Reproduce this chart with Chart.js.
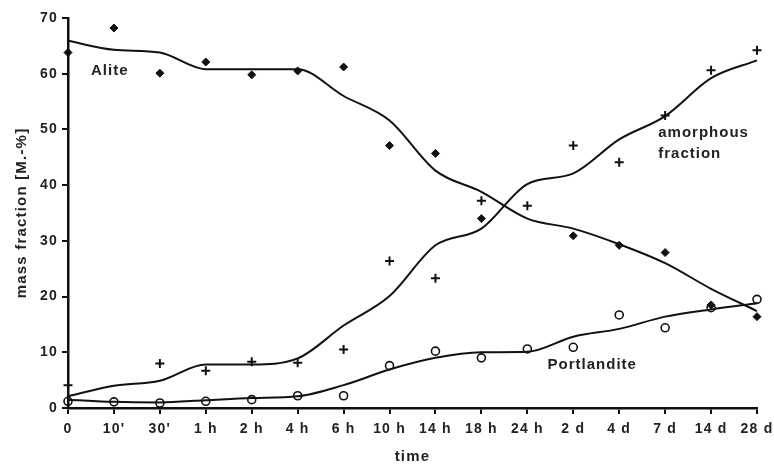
<!DOCTYPE html>
<html>
<head>
<meta charset="utf-8">
<script src="https://cdn.jsdelivr.net/npm/chart.js@4/dist/chart.umd.min.js"></script>
<style>
  html, body { margin: 0; padding: 0; background: #fff; }
  #wrap { width: 774px; height: 466px; }
</style>
</head>
<body>
<div id="wrap"><canvas id="c" width="774" height="466"></canvas></div>
<script>
// Hydration times
const times = ["0", "10'", "30'", "1 h", "2 h", "4 h", "6 h", "10 h", "14 h", "18 h", "24 h", "2 d", "4 d", "7 d", "14 d", "28 d"];

// Measured phase contents [M.-%]
const aliteMeasured       = [63.8, 68.2, 60.1, 62.1, 59.8, 60.5, 61.2, 47.1, 45.7, 34.0, null, 30.9, 29.2, 27.9, 18.5, 16.4];
const amorphousMeasured   = [4.1, null, 8.0, 6.7, 8.3, 8.1, 10.5, 26.4, 23.3, 37.2, 36.3, 47.1, 44.1, 52.5, 60.6, 64.2];
const portlanditeMeasured = [1.2, 1.1, 0.9, 1.2, 1.5, 2.2, 2.2, 7.6, 10.2, 9.0, 10.6, 10.9, 16.7, 14.4, 18.0, 19.5];

// Smoothed trends
const aliteTrend       = [65.9, 64.3, 63.8, 60.8, 60.8, 60.8, 56.0, 51.6, 42.6, 38.8, 34.0, 32.2, 29.4, 26.0, 21.4, 17.4];
const amorphousTrend   = [2.1, 4.0, 4.9, 7.8, 7.8, 8.9, 14.8, 20.1, 29.2, 32.2, 40.2, 42.1, 48.2, 52.4, 59.2, 62.4];
const portlanditeTrend = [1.5, 1.1, 1.0, 1.4, 1.8, 2.1, 4.1, 6.9, 9.0, 10.0, 10.1, 12.8, 14.2, 16.4, 17.7, 18.8];

// y-axis ticks
const yTicks = [0, 10, 20, 30, 40, 50, 60, 70];

// Curve labels (category index, value at the text's vertical centre, text)
const curveLabels = [
  { at: 0.5,   v: 60.5, text: "Alite" },
  { at: 12.85, v: 49.4, text: "amorphous" },
  { at: 12.85, v: 45.7, text: "fraction" },
  { at: 10.44, v: 7.7,  text: "Portlandite" }
];

const FONT = "'Liberation Sans', Arial, sans-serif";

// Slightly widened lettering for all chart text
const spacingPlugin = {
  id: 'letterSpacing',
  beforeInit(chart) { chart.ctx.letterSpacing = '1.2px'; },
  beforeUpdate(chart) { chart.ctx.letterSpacing = '1.2px'; },
  beforeDraw(chart) { chart.ctx.letterSpacing = '1.2px'; }
};

const labelPlugin = {
  id: 'curveLabels',
  afterDatasetsDraw(chart) {
    const { ctx, scales } = chart;
    ctx.save();
    ctx.letterSpacing = '1px';
    ctx.fillStyle = '#222';
    ctx.font = 'bold 15px ' + FONT;
    ctx.textAlign = 'left';
    ctx.textBaseline = 'middle';
    curveLabels.forEach(l => {
      const x = scales.x.getPixelForValue(l.at);
      const y = scales.y.getPixelForValue(l.v);
      ctx.fillText(l.text, x, y);
    });
    ctx.restore();
  }
};

const trendStyle = {
  type: 'line',
  borderColor: '#111',
  borderWidth: 2,
  pointRadius: 0,
  tension: 0.4,
  cubicInterpolationMode: 'monotone',
  fill: false
};
const markStyle = {
  type: 'line',
  showLine: false,
  borderColor: '#111',
  backgroundColor: '#111'
};

new Chart(document.getElementById('c'), {
  data: {
    labels: times,
    datasets: [
      Object.assign({ label: 'Alite trend', data: aliteTrend }, trendStyle),
      Object.assign({ label: 'amorphous trend', data: amorphousTrend }, trendStyle),
      Object.assign({ label: 'Portlandite trend', data: portlanditeTrend }, trendStyle),
      Object.assign({ label: 'Alite', data: aliteMeasured, pointStyle: 'rectRot', pointRadius: 4, borderWidth: 1 }, markStyle),
      Object.assign({ label: 'amorphous fraction', data: amorphousMeasured, pointStyle: 'cross', pointRadius: 4.5, borderWidth: 2 }, markStyle),
      Object.assign({ label: 'Portlandite', data: portlanditeMeasured, pointStyle: 'circle', pointRadius: 4, borderWidth: 1.6 }, markStyle, { backgroundColor: 'rgba(255,255,255,0)' })
    ]
  },
  options: {
    responsive: false,
    animation: false,
    devicePixelRatio: 1,
    layout: { padding: { left: 13, right: 17, top: 18, bottom: 0 } },
    plugins: { legend: { display: false }, tooltip: { enabled: false } },
    scales: {
      x: {
        type: 'category',
        offset: false,
        border: { display: true, color: '#111', width: 2.5 },
        grid: { display: true, drawOnChartArea: false, drawTicks: true, tickLength: 6, color: '#111', lineWidth: 2 },
        ticks: { color: '#222', font: { family: FONT, size: 14, weight: 'bold' }, padding: 7, maxRotation: 0, autoSkip: false },
        title: { display: true, text: 'time', color: '#222', font: { family: FONT, size: 15, weight: 'bold' }, padding: { top: 8, bottom: 0 } },
        afterFit(s) { s.height = 58; s.paddingLeft = 0; s.paddingRight = 0; }
      },
      y: {
        min: 0, max: 70,
        afterBuildTicks(s) { s.ticks = yTicks.map(v => ({ value: v })); },
        border: { display: true, color: '#111', width: 2.5 },
        grid: { display: true, drawOnChartArea: false, drawTicks: true, tickLength: 6, color: '#111', lineWidth: 2 },
        ticks: { color: '#222', font: { family: FONT, size: 14, weight: 'bold' }, padding: 4 },
        title: { display: true, text: 'mass fraction [M.-%]', color: '#222', font: { family: FONT, size: 15, weight: 'bold' }, padding: { top: 0, bottom: 6 } },
        afterFit(s) { s.width = 55; s.paddingTop = 0; s.paddingBottom = 0; }
      }
    }
  },
  plugins: [spacingPlugin, labelPlugin]
});
</script>
</body>
</html>
